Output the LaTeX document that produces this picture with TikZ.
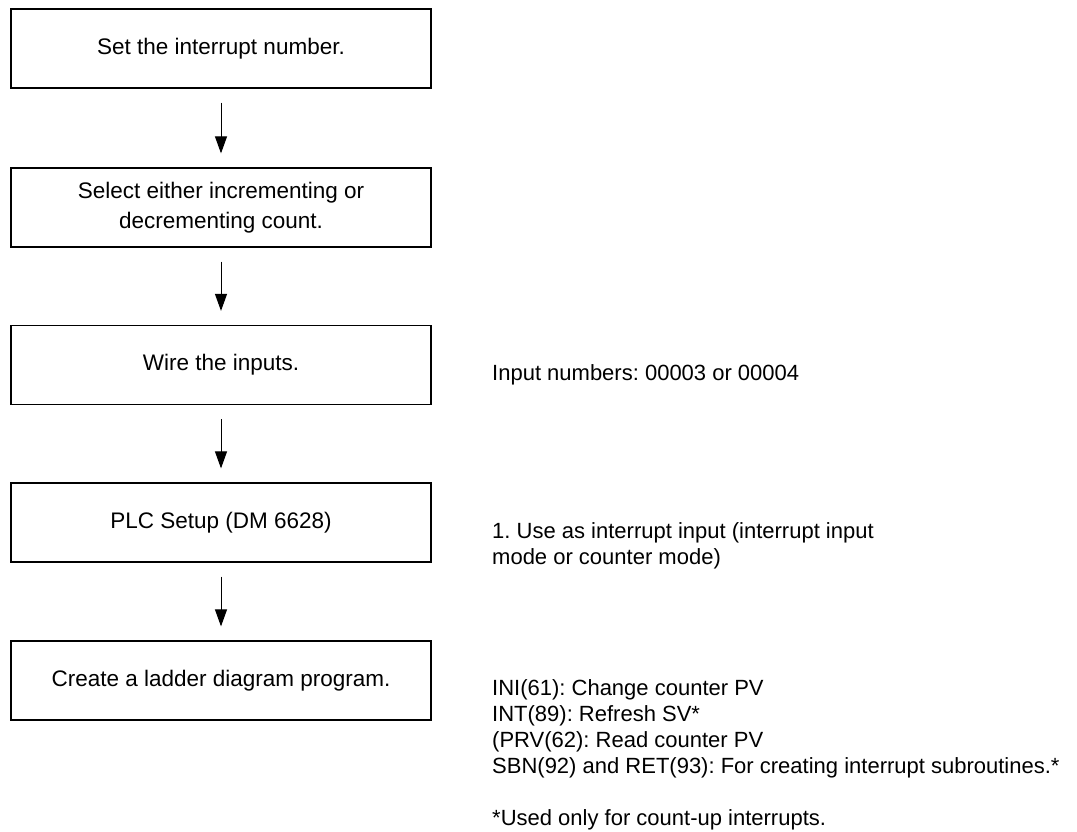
\documentclass[tikz,border=0pt]{standalone}
\usepackage{fontspec}
\setmainfont{Liberation Sans}
\usetikzlibrary{arrows.meta}
\frenchspacing
\begin{document}
\begin{tikzpicture}[x=1pt,y=-1pt,
  stepbox/.style={draw, line width=1.2pt, minimum width=420pt, minimum height=79pt,
    inner sep=0pt, align=center, font=\fontsize{22.5}{30}\selectfont},
  flow/.style={-{Triangle[length=17pt,width=12pt]}, line width=1pt,
    shorten <=14pt, shorten >=14pt},
  note/.style={anchor=base west, inner sep=0pt, align=left,
    font=\fontsize{22}{26}\selectfont}]
\useasboundingbox (0,0) rectangle (1077,831);
\node[stepbox] (s1) at (221,48.5) {Set the interrupt number.};
\node[stepbox] (s2) at (221,207.5) {Select either incrementing or\\decrementing count.};
\node[stepbox] (s3) at (221,365) {Wire the inputs.};
\node[stepbox] (s4) at (221,522.5) {PLC Setup (DM 6628)};
\node[stepbox] (s5) at (221,680.5) {Create a ladder diagram program.};
\draw[flow] (s1) -- (s2);
\draw[flow] (s2) -- (s3);
\draw[flow] (s3) -- (s4);
\draw[flow] (s4) -- (s5);
\node[note] (n3) at (492,380) {Input numbers: 00003 or 00004};
\node[note] (n4) at (492,564) {1. Use as interrupt input (interrupt input\\mode or counter mode)};
\node[note] (n5) at (492,825) {INI(61): Change counter PV\\INT(89): Refresh SV*\\(PRV(62): Read counter PV\\SBN(92) and RET(93): For creating interrupt subroutines.*\\[26pt]*Used only for count-up interrupts.};
\end{tikzpicture}
\end{document}
